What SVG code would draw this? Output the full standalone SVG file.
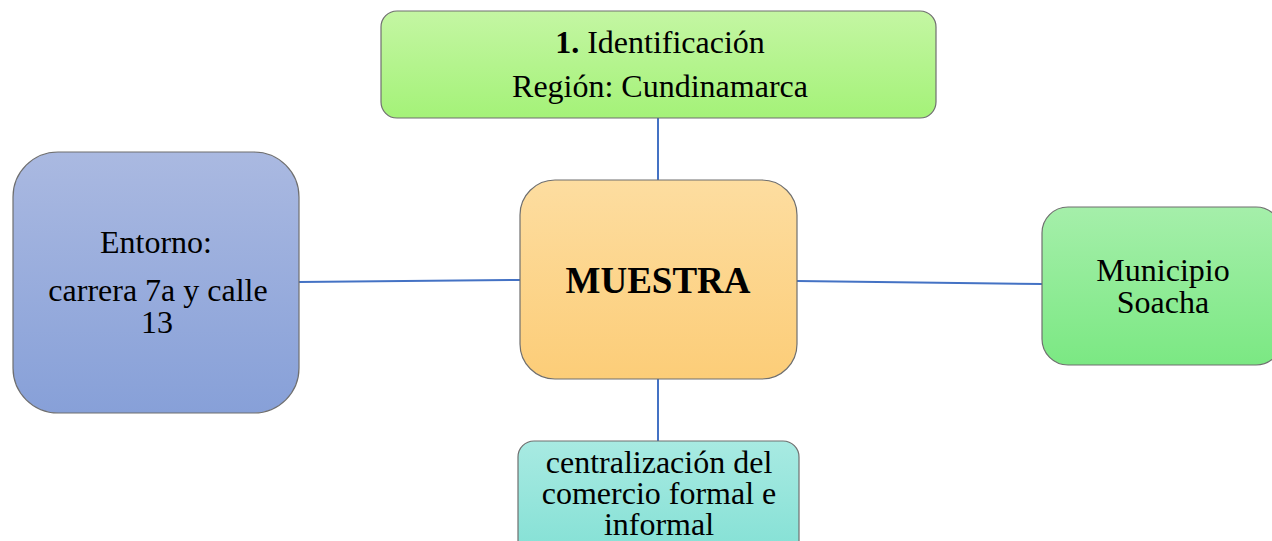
<svg xmlns="http://www.w3.org/2000/svg" width="1272" height="541" viewBox="0 0 1272 541">
<style>
.box{stroke:#6f6f6f;stroke-width:1.2}
.t{font-family:"Liberation Serif","Times New Roman",serif;font-size:32px;fill:#000;text-anchor:middle}
.b{font-weight:bold}
.c{stroke:#4472c4;stroke-width:2;fill:none}
</style>
<defs>
<linearGradient id="gTop" x1="0" y1="0" x2="0" y2="1"><stop offset="0" stop-color="#c4f6a3"/><stop offset="1" stop-color="#a4f278"/></linearGradient>
<linearGradient id="gLeft" x1="0" y1="0" x2="0" y2="1"><stop offset="0" stop-color="#aab9e1"/><stop offset="1" stop-color="#87a0d8"/></linearGradient>
<linearGradient id="gCenter" x1="0" y1="0" x2="0" y2="1"><stop offset="0" stop-color="#fddda0"/><stop offset="1" stop-color="#fccd78"/></linearGradient>
<linearGradient id="gRight" x1="0" y1="0" x2="0" y2="1"><stop offset="0" stop-color="#a5efaa"/><stop offset="1" stop-color="#7be883"/></linearGradient>
<linearGradient id="gBottom" x1="0" y1="0" x2="0" y2="1"><stop offset="0" stop-color="#a8eae2"/><stop offset="1" stop-color="#82e0d4"/></linearGradient>
</defs>
<rect width="1272" height="541" fill="#fff"/>
<g id="connectors">
<line class="c" x1="658" y1="118" x2="658" y2="180"/>
<line class="c" x1="658" y1="379" x2="658" y2="441"/>
<line class="c" x1="299" y1="282" x2="520" y2="280"/>
<line class="c" x1="797" y1="281" x2="1042" y2="284"/>
</g>
<g id="node-identificacion">
<rect class="box" x="381" y="11" width="555" height="107" rx="16" fill="url(#gTop)"/>
<text class="t" x="660" y="53"><tspan class="b">1.</tspan> Identificación</text>
<text class="t" x="660" y="97">Región: Cundinamarca</text>
</g>
<g id="node-entorno">
<rect class="box" x="13" y="152" width="286" height="261" rx="45" fill="url(#gLeft)"/>
<text class="t" x="156" y="253">Entorno:</text>
<text class="t" x="158" y="301">carrera 7a y calle</text>
<text class="t" x="157" y="333">13</text>
</g>
<g id="node-muestra">
<rect class="box" x="520" y="180" width="277" height="199" rx="35" fill="url(#gCenter)"/>
<text class="t b" x="658" y="293" style="font-size:37px">MUESTRA</text>
</g>
<g id="node-municipio">
<rect class="box" x="1042" y="207" width="240" height="158" rx="26" fill="url(#gRight)"/>
<text class="t" x="1163" y="281">Municipio</text>
<text class="t" x="1163" y="313">Soacha</text>
</g>
<g id="node-centralizacion">
<rect class="box" x="518" y="441" width="281" height="120" rx="16" fill="url(#gBottom)"/>
<text class="t" x="659" y="473">centralización del</text>
<text class="t" x="659" y="504">comercio formal e</text>
<text class="t" x="659" y="535">informal</text>
</g>
</svg>
